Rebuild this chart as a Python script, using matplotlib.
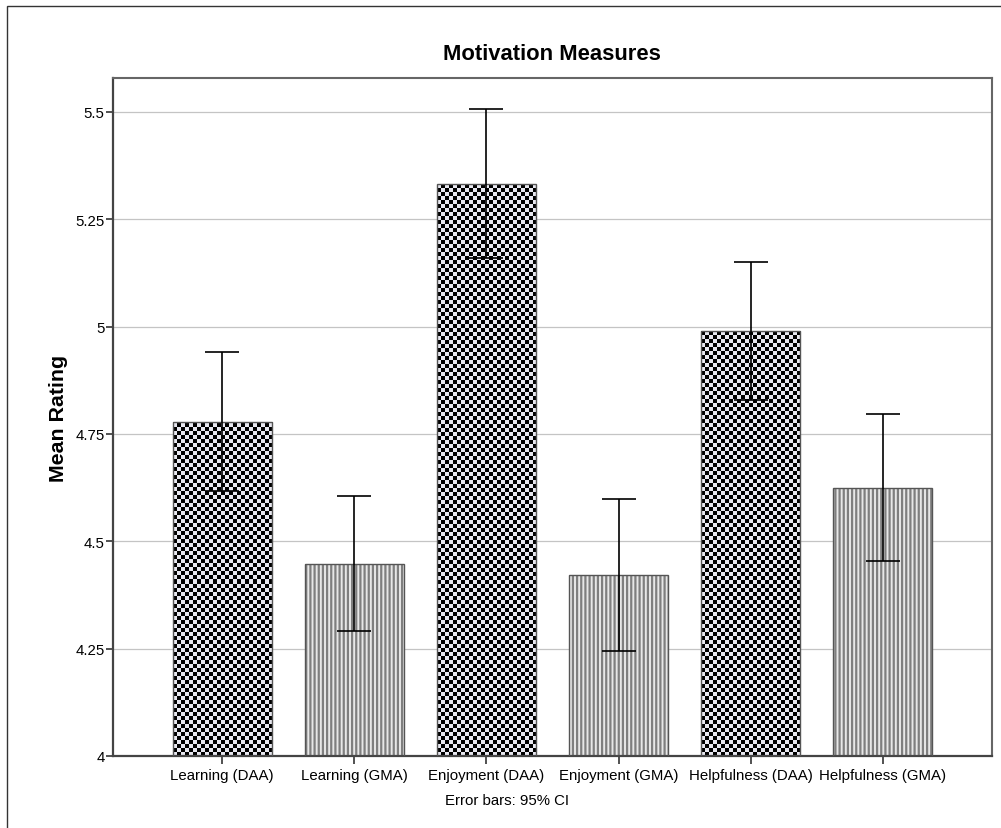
import matplotlib
matplotlib.use('Agg')
import matplotlib.pyplot as plt
import numpy as np
from matplotlib.colors import ListedColormap
from matplotlib.patches import Rectangle

plt.rcParams['font.family'] = ['Liberation Sans', 'DejaVu Sans']
plt.rcParams['hatch.linewidth'] = 1.6

# data (mean rating and 95% CI)
categories = ['Learning (DAA)', 'Learning (GMA)', 'Enjoyment (DAA)',
              'Enjoyment (GMA)', 'Helpfulness (DAA)', 'Helpfulness (GMA)']
groups = ['DAA', 'GMA', 'DAA', 'GMA', 'DAA', 'GMA']
means = [4.778, 4.448, 5.332, 4.421, 4.990, 4.624]
ci_low = [4.617, 4.291, 5.160, 4.245, 4.829, 4.454]
ci_high = [4.940, 4.606, 5.507, 4.599, 5.151, 4.797]
yticks = [4, 4.25, 4.5, 4.75, 5, 5.25, 5.5]
ytick_labels = ['4', '4.25', '4.5', '4.75', '5', '5.25', '5.5']

W, H = 1001, 829
fig = plt.figure(figsize=(W / 100, H / 100), dpi=100)
ax = fig.add_axes([113 / W, 1 - 757 / H, (992 - 113) / W, (757 - 79) / H])

# outer frame (right and bottom edges fall outside the image)
fig.patches.append(Rectangle((7 / W, -0.1), 1.2, 1.1 - 7 / H,
                             transform=fig.transFigure, fill=False,
                             edgecolor='#333333', linewidth=1.0))

x = np.arange(len(categories))
bw = 0.75
ymin, ymax = 4, 5.579
checker_cmap = ListedColormap(['#e8e8f0', '#000000'])

for i, g in enumerate(groups):
    if g == 'DAA':
        bar = ax.bar(x[i], means[i] - ymin, bw, bottom=ymin,
                     color='#e8e8f0', edgecolor='none', zorder=2)[0]
        # checkerboard fill, clipped to the bar
        nx = 25
        sy = 4 / 429.33
        ny = int(np.ceil((means[i] - ymin) / sy))
        jj, ii = np.indices((ny, nx))
        pattern = (ii + jj) % 2
        im = ax.imshow(pattern, cmap=checker_cmap, interpolation='nearest',
                       extent=[x[i] - bw / 2, x[i] + bw / 2, ymin, ymin + ny * sy],
                       origin='lower', aspect='auto', zorder=2.5)
        im.set_clip_path(bar)
    else:
        ax.bar(x[i], means[i] - ymin, bw, bottom=ymin, color='#e8e8e8',
               edgecolor='#7f7f7f', linewidth=0, hatch='||||', zorder=2)
    # outline
    ax.bar(x[i], means[i] - ymin, bw, bottom=ymin, fill=False,
           edgecolor='#555555', linewidth=1.0, zorder=3)

err = [np.array(means) - np.array(ci_low), np.array(ci_high) - np.array(means)]
ax.errorbar(x, means, yerr=err, fmt='none', ecolor='black', elinewidth=1.2,
            capsize=12, capthick=1.2, zorder=4)

ax.set_xlim(-0.826, len(categories) - 1 + 0.826)
ax.set_ylim(ymin, ymax)
ax.set_yticks(yticks)
ax.set_yticklabels(ytick_labels)
ax.set_xticks(x)
ax.set_xticklabels(categories)
ax.yaxis.grid(True, color='#c4c4c4', linewidth=0.9, zorder=0)
ax.set_axisbelow(True)

ax.tick_params(axis='y', direction='out', length=5, width=1.2, color='#333333',
               labelsize=10.8, pad=1)
ax.tick_params(axis='x', direction='out', length=6, width=1.2, color='#333333',
               labelsize=10.8, pad=3)
for side in ['left', 'bottom']:
    ax.spines[side].set_color('#444444')
    ax.spines[side].set_linewidth(1.6)
for side in ['top', 'right']:
    ax.spines[side].set_color('#666666')
    ax.spines[side].set_linewidth(1.5)

fig.text(552 / W, 1 - 55 / H, 'Motivation Measures', ha='center', va='center',
         fontsize=15.8, fontweight='bold')
fig.text(59 / W, 1 - 418 / H, 'Mean Rating', ha='center', va='center',
         rotation=90, fontsize=15.4, fontweight='bold')
fig.text(445 / W, 1 - 801 / H, 'Error bars: 95% CI', ha='left', va='center',
         fontsize=10.8)

fig.savefig('out.png', dpi=100)
